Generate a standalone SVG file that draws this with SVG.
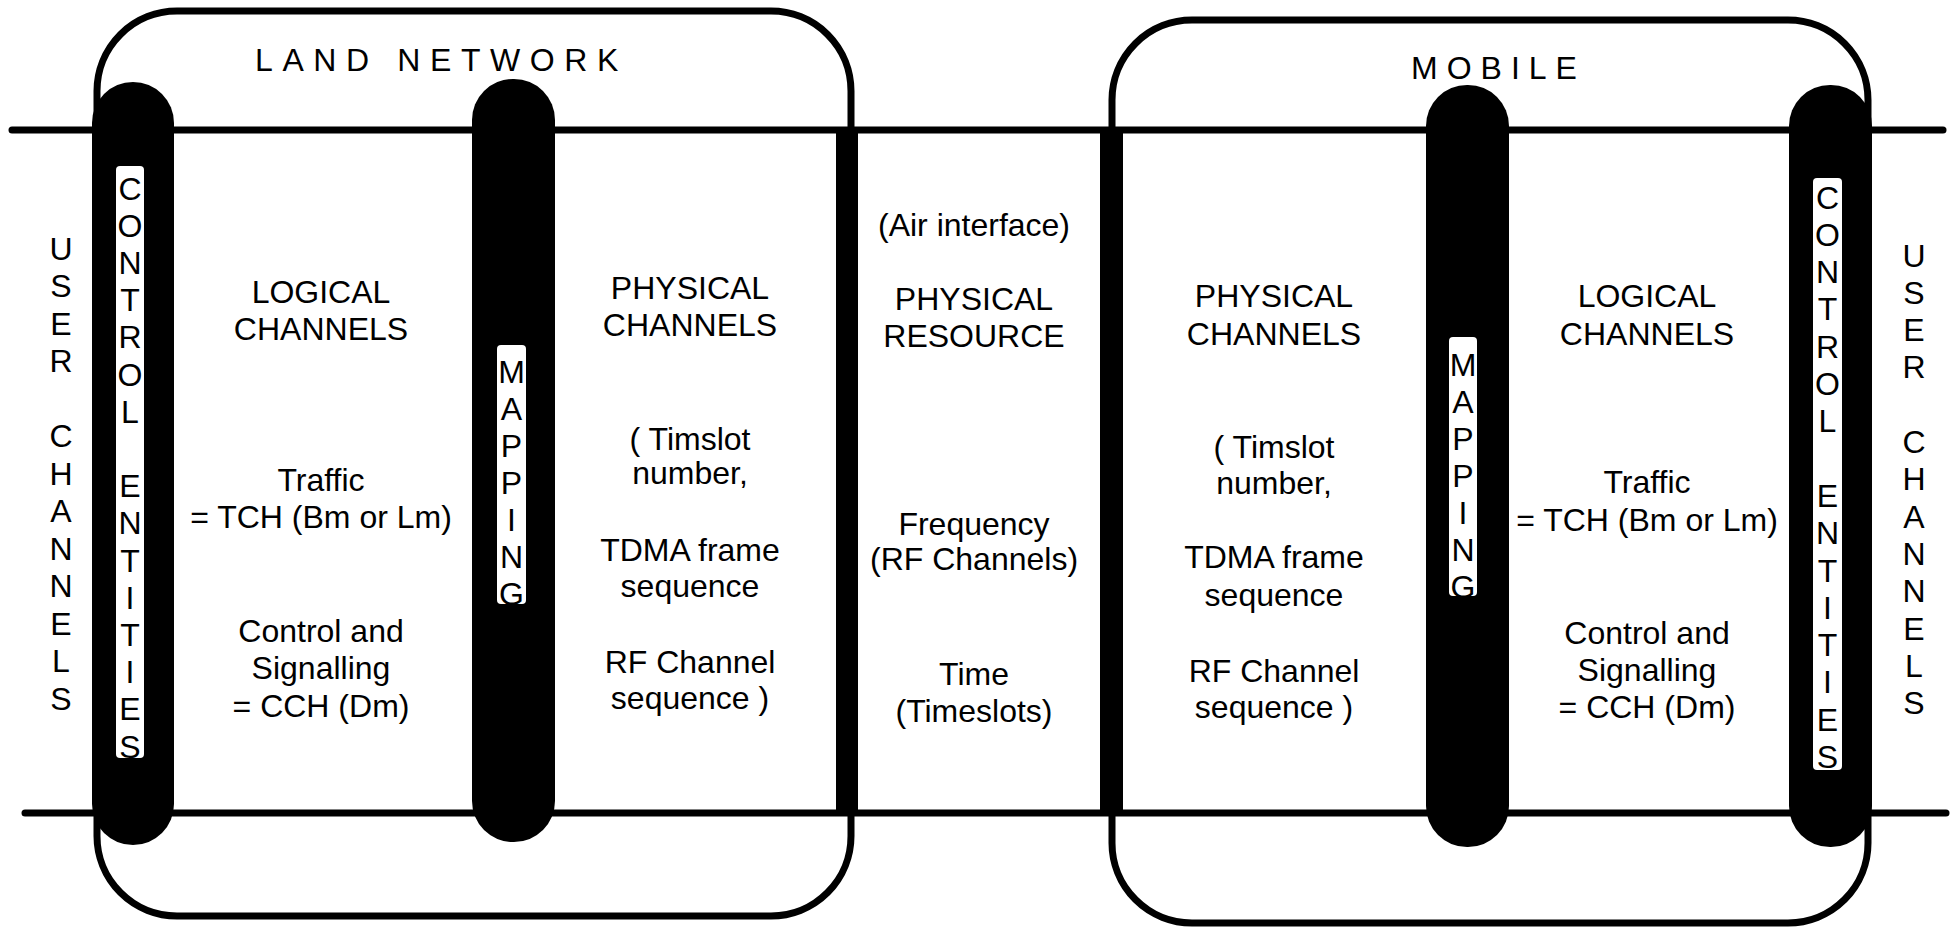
<svg xmlns="http://www.w3.org/2000/svg" width="1952" height="928" viewBox="0 0 1952 928">
<style>
.box{fill:none;stroke:#000;stroke-width:7}
.line{stroke:#000;stroke-width:7;stroke-linecap:round}
.pill{fill:#000}
.lbl{fill:#fff}
text{font-family:"Liberation Sans",Arial,sans-serif;font-size:32px;fill:#000}
.c{text-anchor:middle}
.sp{letter-spacing:9.6px}
</style>
<rect width="1952" height="928" fill="#fff"/>

<g id="land-network">
  <rect class="box" x="97" y="11" width="754" height="905" rx="80" ry="80"/>
  <text class="sp" x="255" y="71">LAND NETWORK</text>
</g>
<g id="mobile">
  <rect class="box" x="1112" y="20" width="756" height="903" rx="80" ry="80"/>
  <text class="sp" x="1411" y="79" style="letter-spacing:9px">MOBILE</text>
</g>

<g id="connectors">
  <line class="line" x1="12" y1="130" x2="1943" y2="130"/>
  <line class="line" x1="25" y1="813" x2="1946" y2="813"/>
</g>

<g id="air-interface-bars">
  <rect class="pill" x="836" y="131" width="22" height="682"/>
  <rect class="pill" x="1100" y="133" width="23" height="680"/>
</g>

<g id="left-control-entities">
  <rect class="pill" x="92" y="82" width="82" height="763" rx="41" ry="41"/>
  <rect class="lbl" x="116" y="166" width="28" height="592" rx="4"/>
  <text class="c" x="130" y="199.5"><tspan x="130">C</tspan><tspan x="130" dy="37.2">O</tspan><tspan x="130" dy="37.2">N</tspan><tspan x="130" dy="37.2">T</tspan><tspan x="130" dy="37.2">R</tspan><tspan x="130" dy="37.2">O</tspan><tspan x="130" dy="37.2">L</tspan><tspan x="130" dy="74.4">E</tspan><tspan x="130" dy="37.2">N</tspan><tspan x="130" dy="37.2">T</tspan><tspan x="130" dy="37.2">I</tspan><tspan x="130" dy="37.2">T</tspan><tspan x="130" dy="37.2">I</tspan><tspan x="130" dy="37.2">E</tspan><tspan x="130" dy="37.2">S</tspan></text>
</g>

<g id="left-mapping">
  <rect class="pill" x="472" y="79" width="83" height="763" rx="41" ry="41"/>
  <rect class="lbl" x="497" y="345" width="29" height="259" rx="4"/>
  <text class="c" x="511.5" y="382.5"><tspan x="511.5">M</tspan><tspan x="511.5" dy="37">A</tspan><tspan x="511.5" dy="37">P</tspan><tspan x="511.5" dy="37">P</tspan><tspan x="511.5" dy="37">I</tspan><tspan x="511.5" dy="37">N</tspan><tspan x="511.5" dy="37">G</tspan></text>
</g>

<g id="right-mapping">
  <rect class="pill" x="1426" y="85" width="83" height="762" rx="41" ry="41"/>
  <rect class="lbl" x="1449" y="337" width="28" height="259" rx="4"/>
  <text class="c" x="1463" y="375.5"><tspan x="1463">M</tspan><tspan x="1463" dy="37">A</tspan><tspan x="1463" dy="37">P</tspan><tspan x="1463" dy="37">P</tspan><tspan x="1463" dy="37">I</tspan><tspan x="1463" dy="37">N</tspan><tspan x="1463" dy="37">G</tspan></text>
</g>

<g id="right-control-entities">
  <rect class="pill" x="1789" y="85" width="83" height="762" rx="41" ry="41"/>
  <rect class="lbl" x="1813" y="178" width="29" height="592" rx="4"/>
  <text class="c" x="1827.5" y="208.5"><tspan x="1827.5">C</tspan><tspan x="1827.5" dy="37.3">O</tspan><tspan x="1827.5" dy="37.3">N</tspan><tspan x="1827.5" dy="37.3">T</tspan><tspan x="1827.5" dy="37.3">R</tspan><tspan x="1827.5" dy="37.3">O</tspan><tspan x="1827.5" dy="37.3">L</tspan><tspan x="1827.5" dy="74.6">E</tspan><tspan x="1827.5" dy="37.3">N</tspan><tspan x="1827.5" dy="37.3">T</tspan><tspan x="1827.5" dy="37.3">I</tspan><tspan x="1827.5" dy="37.3">T</tspan><tspan x="1827.5" dy="37.3">I</tspan><tspan x="1827.5" dy="37.3">E</tspan><tspan x="1827.5" dy="37.3">S</tspan></text>
</g>

<g id="left-user-channels">
  <text class="c" x="61" y="259.5"><tspan x="61">U</tspan><tspan x="61" dy="37.5">S</tspan><tspan x="61" dy="37.5">E</tspan><tspan x="61" dy="37.5">R</tspan><tspan x="61" dy="75">C</tspan><tspan x="61" dy="37.5">H</tspan><tspan x="61" dy="37.5">A</tspan><tspan x="61" dy="37.5">N</tspan><tspan x="61" dy="37.5">N</tspan><tspan x="61" dy="37.5">E</tspan><tspan x="61" dy="37.5">L</tspan><tspan x="61" dy="37.5">S</tspan></text>
</g>

<g id="right-user-channels">
  <text class="c" x="1914" y="266.5"><tspan x="1914">U</tspan><tspan x="1914" dy="37.33">S</tspan><tspan x="1914" dy="37.33">E</tspan><tspan x="1914" dy="37.33">R</tspan><tspan x="1914" dy="74.66">C</tspan><tspan x="1914" dy="37.33">H</tspan><tspan x="1914" dy="37.33">A</tspan><tspan x="1914" dy="37.33">N</tspan><tspan x="1914" dy="37.33">N</tspan><tspan x="1914" dy="37.33">E</tspan><tspan x="1914" dy="37.33">L</tspan><tspan x="1914" dy="37.33">S</tspan></text>
</g>

<g id="left-logical-channels">
  <text class="c" x="321" y="303">LOGICAL</text>
  <text class="c" x="321" y="340">CHANNELS</text>
  <text class="c" x="321" y="491">Traffic</text>
  <text class="c" x="321" y="528">= TCH (Bm or Lm)</text>
  <text class="c" x="321" y="642">Control and</text>
  <text class="c" x="321" y="679">Signalling</text>
  <text class="c" x="321" y="717">= CCH (Dm)</text>
</g>

<g id="left-physical-channels">
  <text class="c" x="690" y="299">PHYSICAL</text>
  <text class="c" x="690" y="336">CHANNELS</text>
  <text class="c" x="690" y="450">( Timslot</text>
  <text class="c" x="690" y="484">number,</text>
  <text class="c" x="690" y="561">TDMA frame</text>
  <text class="c" x="690" y="597">sequence</text>
  <text class="c" x="690" y="673">RF Channel</text>
  <text class="c" x="690" y="709">sequence )</text>
</g>

<g id="physical-resource">
  <text class="c" x="974" y="236">(Air interface)</text>
  <text class="c" x="974" y="310">PHYSICAL</text>
  <text class="c" x="974" y="347">RESOURCE</text>
  <text class="c" x="974" y="535">Frequency</text>
  <text class="c" x="974" y="570">(RF Channels)</text>
  <text class="c" x="974" y="685">Time</text>
  <text class="c" x="974" y="722">(Timeslots)</text>
</g>

<g id="right-physical-channels">
  <text class="c" x="1274" y="307">PHYSICAL</text>
  <text class="c" x="1274" y="345">CHANNELS</text>
  <text class="c" x="1274" y="458">( Timslot</text>
  <text class="c" x="1274" y="494">number,</text>
  <text class="c" x="1274" y="568">TDMA frame</text>
  <text class="c" x="1274" y="606">sequence</text>
  <text class="c" x="1274" y="682">RF Channel</text>
  <text class="c" x="1274" y="718">sequence )</text>
</g>

<g id="right-logical-channels">
  <text class="c" x="1647" y="307">LOGICAL</text>
  <text class="c" x="1647" y="345">CHANNELS</text>
  <text class="c" x="1647" y="493">Traffic</text>
  <text class="c" x="1647" y="531">= TCH (Bm or Lm)</text>
  <text class="c" x="1647" y="644">Control and</text>
  <text class="c" x="1647" y="681">Signalling</text>
  <text class="c" x="1647" y="718">= CCH (Dm)</text>
</g>
</svg>
